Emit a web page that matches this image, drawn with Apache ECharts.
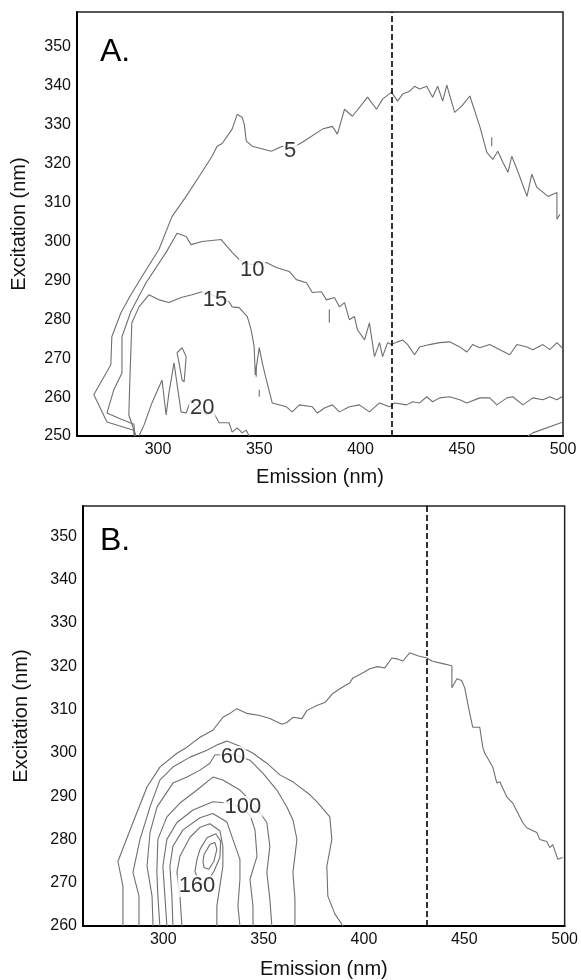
<!DOCTYPE html>
<html>
<head>
<meta charset="utf-8">
<script src="https://cdn.jsdelivr.net/npm/echarts@6/dist/echarts.min.js"></script>
<style>html,body{margin:0;background:#fff}#main{width:581px;height:980px}</style>
</head>
<body>
<div id="main"></div>
<script>
// tick labels
var xTicks = [300, 350, 400, 450, 500];
var yTicksA = [250, 260, 270, 280, 290, 300, 310, 320, 330, 340, 350];
var yTicksB = [260, 270, 280, 290, 300, 310, 320, 330, 340, 350];

// dashed reference emission wavelength
var dashA = 415.5;
var dashB = 431.5;

// panel A contours [emission, excitation]
var a5 = [[288.1,250],[288,251.5],[274.8,253.6],[268.3,260.6],[276.7,268.3],[277.2,275.5],[281.7,281.7],[286.6,286.3],[292.1,291],[300.5,298],[306.9,306.4],[313.9,311.6],[320.3,316.7],[326.7,321.9],[329.2,324.5],[331.7,325.2],[336.6,328.9],[339.1,332.7],[341.6,331.9],[342.6,330.1],[343.6,325.8],[346.5,324.5],[355.9,323.2],[361.4,324.5],[366,324],[371.3,325.5],[381.2,328.9],[386.1,329.6],[388.6,327.6],[392.1,334],[396,332.2],[403.5,337.1],[407.9,334],[410.9,336.6],[415.3,338.4],[418.3,336.1],[420.8,337.9],[424.2,338.6],[426.7,339.9],[429.2,339.2],[432.7,339.9],[435.6,337.1],[438.1,339.9],[440.6,336.1],[442.6,340.2],[446.5,333.2],[450,334.8],[454,337.4],[458.9,329.6],[462.4,322.9],[465.3,321.1],[467.8,323.2],[470.3,320.4],[472.8,317.8],[474.7,321.9],[477.7,318],[482.2,311.6],[484.6,317.3],[487.1,313.9],[492.6,311.6],[497,312.6],[497,305.7],[498.5,307]];
var a10 = [[288.6,250],[288.1,253],[281,254.5],[274.8,255.9],[278.2,261.9],[282.2,266.2],[282.2,275.5],[286.6,282],[294.1,289.4],[304,297.2],[309.4,302.1],[313.9,301.3],[316.3,299.2],[321.8,300],[331.2,300.5],[336.6,297.2],[341.6,294.6],[347,294],[353.5,294.6],[358.4,293.3],[364.8,292.3],[368.3,290.2],[373.3,289.4],[376.2,286.9],[380.7,287.1],[383.2,285],[387.1,285.6],[389.6,283.2],[392.1,284.3],[394.5,279.9],[397,280.7],[398.5,277.3],[402,274.7],[404.4,279.1],[406.9,270.4],[409.4,274],[410.9,270.4],[413.4,274],[415.3,273.5],[418.3,274.2],[420.8,274.7],[423.3,273.5],[426.7,270.9],[429.2,272.9],[434.1,273.5],[439.1,274],[444,274.2],[449,272.9],[452.5,271.6],[455.4,273.5],[458.9,272.7],[463.8,273.5],[468.8,272.2],[473.7,270.9],[477.2,273.5],[482.2,272.9],[485.1,272.2],[490.1,273.5],[493.5,272.2],[497,274],[499.5,272.7]];
var a15 = [[289.1,250],[285.6,255.4],[286.1,264.4],[287.1,279.1],[290.6,283.2],[295.5,286.3],[300.5,285],[305.4,284.3],[311.4,285.6],[316.8,286.3],[321.8,287.1],[328,286],[332.7,285],[335.1,284.5],[336.6,283.2],[340.1,283],[344.1,280.7],[346,277.3],[347.5,272.9],[348,265.7],[350,272.7],[351.5,268.8],[353.5,264.4],[356.4,258.5],[363.4,257.5],[366.3,256.2],[369.8,258],[376.2,257.5],[378.7,255.9],[382.2,257.2],[386.1,258],[389.6,256.2],[394.5,257.5],[399.5,258],[404.4,256.2],[409.4,258.5],[414.3,257.5],[416.8,258.5],[422.8,258],[425.7,258.8],[429.2,258.5],[432.7,260.1],[435.6,258.8],[439.1,259.8],[444,260.1],[449,259.3],[452.5,258.5],[458.9,259.8],[463.8,259.8],[467.3,258],[472.3,259.8],[475.2,260.1],[480.2,258],[485.1,259.8],[490.1,259.3],[493.5,260.1],[497,259.3],[499.5,260.1]];
var a20 = [[290.6,250],[293.1,252.8],[297,258.5],[302,264.4],[304,255.4],[305.4,261.1],[307.9,268.8],[311.4,256.2],[313.9,255.9],[316.3,259.3],[320,257],[324.3,255.4],[326.7,256.7],[330.2,253.4],[335.1,253.4],[336.6,251],[339.1,252.1],[341.6,250.8],[343.6,251.5],[345,250]];
var a20Loop = [[309.4,271.4],[311.9,272.7],[313.9,270.4],[312.9,263.9],[311.9,264.4],[310.4,268.8],[309.4,271.4]];
var aCorner = [[482.7,250],[485.1,250.8],[500,253.6]];
var aBits = [[[348.5,268.3],[348.5,265.2]],[[350,261.9],[350,260.1]],[[384.6,282.5],[384.6,279.1]],[[464.8,326.8],[464.8,324.5]]];
var aLabels = [[365.3,323.2,'5'],[346.5,292.8,'10'],[328.2,285,'15'],[321.8,257.2,'20']];

// panel B contours
var b20 = [[279.9,260],[279.9,269.2],[277.4,274.9],[284.9,283.9],[291.9,292.1],[298.3,296.7],[306.8,299.9],[311.8,301.3],[318.3,303.6],[324.7,305.2],[329.7,308.2],[333.2,309.1],[336.7,310.2],[341.7,309.1],[348.1,308.6],[353.1,307.9],[359.1,306.6],[361.6,307],[364.6,308.2],[369.1,307.9],[371.6,309.8],[376.5,310.9],[380.5,311.6],[384.5,313.7],[388,314.8],[390.5,315.5],[393,316.2],[394.5,317.3],[398.9,318.3],[402.9,319.4],[406.9,319.9],[410.4,319.6],[413.9,321.9],[416.4,321.7],[419.4,321.2],[422.8,323.1],[426.8,322.4],[431.3,321.9],[433.8,321.2],[439.3,320.6],[443.8,320.1],[443.8,315],[446.3,317.1],[448.7,316.7],[450.2,315],[452.7,309.1],[454.2,305.9],[457.7,305.9],[459.2,301.3],[460.2,299.9],[464.2,296.7],[466.2,293],[467.7,293.3],[471.2,289.8],[474.1,288.4],[479.1,283.9],[481.1,282.7],[486.1,281.6],[487.6,280],[491.1,279.5],[492.6,278.1],[494.1,278.8],[496.6,275.4],[499,275.8]];
var b40 = [[287.9,260],[287.9,266.9],[284.9,272.4],[288.4,280],[293.4,287.5],[298.3,293.7],[304.8,296.7],[313.3,299],[321.8,300.6],[326.7,301.8],[331.7,302.7],[338.2,301.5],[344.7,299.9],[351.6,297.6],[358.1,294.9],[364.6,293.3],[373.1,290.3],[376.5,288.7],[383,285.2],[384,280],[381.5,273.8],[382,266.9],[385.5,262.8],[389.5,260]];
var b60 = [[294.9,260],[294.4,266.9],[291.9,273.8],[293.4,281.6],[296.9,287.5],[304.8,293],[311.8,294.4],[318.3,296],[323.2,297.6],[325.7,299.5],[334.7,299.7],[343.2,298.3],[349.6,295.3],[356.6,291.4],[361.6,287.5],[364.6,284.5],[366.6,280],[364.6,272.4],[365.6,266.2],[365.6,260]];
var b80 = [[298.3,260],[297.3,266.9],[296.8,272.4],[297.3,280],[301.8,285.2],[308.3,288.4],[316.8,291.4],[324.7,294.4],[329.7,293.7],[338.2,291.4],[344.7,288.4],[351.6,283.9],[353.1,278.4],[351.6,272.4],[353.1,266.2],[354.1,260]];
var b100 = [[301.8,260],[300.8,266.9],[299.8,273.8],[301.8,280],[306.8,283.9],[314.8,286.8],[324.7,288.7],[331.7,288.4],[338,287.5],[343.2,285.7],[345.7,282.2],[346.7,276.1],[343.2,270.8],[344.7,264.6],[344.7,260]];
var b120 = [[304.8,260],[304.3,266.9],[303.3,273.8],[304.8,278.4],[309.8,282.2],[318.3,285],[324.7,286],[331.7,284],[334.7,280],[338.2,275.4],[338.2,270.8],[337.2,264.6],[338.2,260]];
var b140 = [[309.3,260],[308.3,266.9],[306.8,272.4],[308.3,276.1],[313.3,280.5],[318.3,282.8],[323.2,283.6],[328.2,282],[329.7,278.4],[329.7,273.8],[328.2,269.2],[326.7,264.6],[326.7,260]];
var b160 = [[318.3,277.7],[321.8,280.4],[326.2,281.3],[328.6,279.6],[328.2,275.8],[325.2,272.6],[321.8,270.3],[318.3,269.6],[315.8,272.6],[316.8,275.4],[318.3,277.7]];
var b180 = [[320.3,276.5],[323.2,278.8],[325.7,279.3],[326.7,277.7],[325.2,274.9],[322.7,273.1],[320.3,273.5],[319.8,274.9],[320.3,276.5]];
var bLabels = [[334.7,299,'60'],[339.7,287.5,'100'],[316.8,269.2,'160']];

var gray = '#6f6f6f';
var font = 'Liberation Sans';
var series = [];
function contour(data, g) {
    series.push({
        type: 'line', xAxisIndex: g, yAxisIndex: g, data: data,
        showSymbol: false, symbol: 'none', silent: true,
        lineStyle: { color: gray, width: 1.1 }
    });
}
[a5, a10, a15, a20, a20Loop, aCorner].forEach(function (d) { contour(d, 0); });
aBits.forEach(function (d) { contour(d, 0); });
[b20, b40, b60, b80, b100, b120, b140, b160, b180].forEach(function (d) { contour(d, 1); });

// dashed lines
[dashA, dashB].forEach(function (v, g) {
    series.push({
        type: 'line', xAxisIndex: g, yAxisIndex: g, data: [],
        markLine: {
            silent: true, symbol: 'none', label: { show: false },
            lineStyle: { color: '#000', type: [6, 3], width: 1.6 },
            data: [{ xAxis: v }]
        }
    });
});

// contour labels
[aLabels, bLabels].forEach(function (d, g) {
    series.push({
        type: 'scatter', xAxisIndex: g, yAxisIndex: g, data: d,
        symbolSize: 1, itemStyle: { color: 'rgba(0,0,0,0)' }, z: 5,
        label: {
            show: true, position: 'inside', formatter: function (p) { return p.value[2]; },
            color: '#000', fontSize: 22, fontFamily: font,
            backgroundColor: '#fff', padding: [0, 1]
        }
    });
});

function xAx(g) {
    return {
        gridIndex: g, type: 'value', min: 260, max: 500,
        name: 'Emission (nm)', nameLocation: 'middle', nameGap: g ? 33 : 31,
        nameTextStyle: { fontSize: 20, color: '#111', fontFamily: font },
        axisLine: { onZero: false, lineStyle: { color: '#000', width: 2 } },
        axisTick: { show: false },
        splitLine: { show: false },
        axisLabel: { customValues: xTicks, color: '#111', fontSize: 16, margin: 6, fontFamily: font }
    };
}
function yAx(g, min, max, ticks, gap) {
    return {
        gridIndex: g, type: 'value', min: min, max: max,
        name: 'Excitation (nm)', nameLocation: 'middle', nameGap: gap,
        nameTextStyle: { fontSize: 20, color: '#111', fontFamily: font },
        axisLine: { onZero: false, lineStyle: { color: '#000', width: 2 } },
        axisTick: { show: false },
        splitLine: { show: false },
        axisLabel: { customValues: ticks, color: '#111', fontSize: 16, margin: 6, fontFamily: font }
    };
}

var chart = echarts.init(document.getElementById('main'));
chart.setOption({
    animation: false,
    backgroundColor: '#fff',
    title: [
        { text: 'A.', left: 95, top: 31, textStyle: { fontSize: 32, fontWeight: 'normal', color: '#000', fontFamily: font } },
        { text: 'B.', left: 95, top: 520, textStyle: { fontSize: 32, fontWeight: 'normal', color: '#000', fontFamily: font } }
    ],
    grid: [
        { left: 77, top: 12, width: 486, height: 424, show: true, borderColor: '#222', borderWidth: 1.5 },
        { left: 83, top: 506, width: 482, height: 421, show: true, borderColor: '#222', borderWidth: 1.5 }
    ],
    xAxis: [xAx(0), xAx(1)],
    yAxis: [yAx(0, 250, 359, yTicksA, 48), yAx(1, 260, 357, yTicksB, 52)],
    series: series
});
</script>
</body>
</html>
